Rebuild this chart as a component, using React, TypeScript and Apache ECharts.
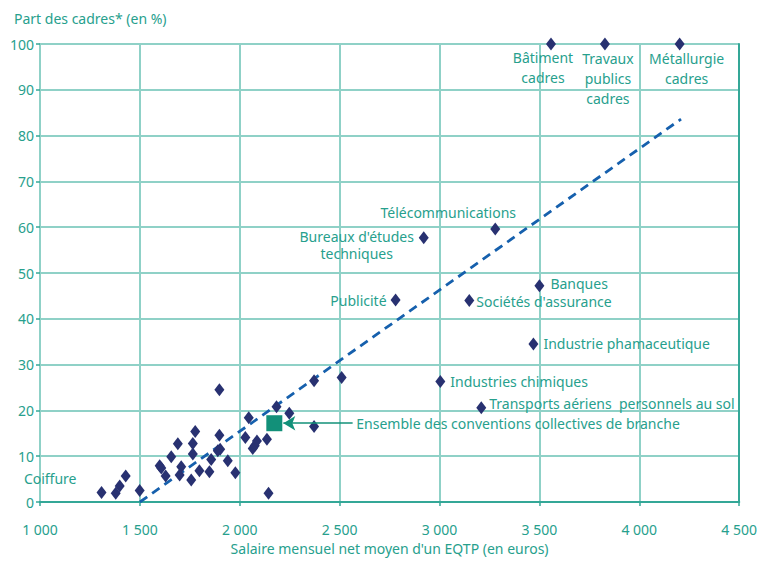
import React, { useEffect, useRef } from "react";
import * as echarts from "echarts";

// Unlabelled conventions (salary in euros, share of managers in %)
const clusterX = [1379, 1399, 1429, 1499, 1599, 1607, 1629, 1657, 1690, 1707, 1699, 1757, 1765, 1777, 1765, 1798, 1848, 1857, 1898, 1898, 1890, 1902, 1940, 1978, 2028, 2045, 2065, 2075, 2086, 2136, 2144, 2184, 2248, 2372, 2372, 2510];
const clusterY = [1.9, 3.5, 5.7, 2.5, 7.9, 7.4, 5.7, 9.9, 12.7, 7.7, 5.9, 4.8, 12.8, 15.4, 10.5, 6.8, 6.6, 9.3, 24.5, 14.6, 11.2, 11.5, 9.0, 6.4, 14.1, 18.4, 11.7, 12.3, 13.3, 13.7, 1.9, 20.8, 19.4, 26.5, 16.5, 27.2];

// Labelled conventions
const labelNames = [
  "Coiffure",
  "Télécommunications",
  "Bureaux d'études\ntechniques",
  "Publicité",
  "Sociétés d'assurance",
  "Banques",
  "Industrie phamaceutique",
  "Industries chimiques",
  "Transports aériens  personnels au sol",
  "Bâtiment\ncadres",
  "Travaux\npublics\ncadres",
  "Métallurgie\ncadres",
];
const labelX = [1308, 3279, 2921, 2780, 3149, 3500, 3470, 3004, 3209, 3558, 3828, 4202];
const labelY = [2.1, 59.6, 57.7, 44.1, 44.0, 47.2, 34.5, 26.3, 20.6, 100, 100, 100];

// Overall figure
const ensembleName = "Ensemble des conventions collectives de branche";
const ensembleX = 2173;
const ensembleY = 17.2;

// Trend line endpoints
const trendX = [1500, 4209];
const trendY = [0, 83.6];

const xTicks = [1000, 1500, 2000, 2500, 3000, 3500, 4000, 4500];
const yTicks = [0, 10, 20, 30, 40, 50, 60, 70, 80, 90, 100];

const TEXT = "#27a08d";
const GRID = "#8fd1c7";
const FRAME = "#34a797";
const DIAMOND = "#283171";
const FONT = "Noto Sans";

const fmtThousands = (v: number) => {
  const s = String(Math.round(v));
  return s.length > 3 ? s.slice(0, s.length - 3) + " " + s.slice(-3) : s;
};

export default function App() {
  const ref = useRef<HTMLDivElement>(null);
  useEffect(() => {
    if (!ref.current) return;
    const chart = echarts.init(ref.current, null, { renderer: "svg" });

    const labelCfg: any[] = [
      { position: "left", distance: 20, offset: [0, -14], lineHeight: 15 },
      { position: "top", distance: 3, offset: [-47, 0], lineHeight: 15 },
      { position: [-62, -3], align: "center", verticalAlign: "top", lineHeight: 17 },
      { position: "left", distance: 4, lineHeight: 15 },
      { position: "right", distance: 2, offset: [0, 1], lineHeight: 15 },
      { position: "right", distance: 6, offset: [0, -2], lineHeight: 15 },
      { position: "right", distance: 5, lineHeight: 15 },
      { position: "right", distance: 5, lineHeight: 15 },
      { position: "right", distance: 3, offset: [0, -4], lineHeight: 15 },
      { position: [-3, 10], align: "center", verticalAlign: "top", lineHeight: 20 },
      { position: [8, 11], align: "center", verticalAlign: "top", lineHeight: 20 },
      { position: [12, 11], align: "center", verticalAlign: "top", lineHeight: 20 },
    ];

    const labelled = labelNames.map((n, i) => ({
      value: [labelX[i], labelY[i]],
      name: n,
      label: {
        show: true,
        formatter: n,
        color: TEXT,
        fontFamily: FONT,
        fontSize: 14,
        ...labelCfg[i],
      },
    }));

    chart.setOption({
      animation: false,
      textStyle: { fontFamily: FONT },
      grid: { left: 40, right: 19, top: 44, bottom: 61, containLabel: false },
      xAxis: [
        {
          type: "value",
          min: xTicks[0],
          max: xTicks[xTicks.length - 1],
          interval: 500,
          name: "Salaire mensuel net moyen d'un EQTP (en euros)",
          nameLocation: "middle",
          nameGap: 39,
          nameTextStyle: { color: TEXT, fontSize: 14, fontFamily: FONT },
          axisLine: { show: true, lineStyle: { color: FRAME, width: 2 } },
          axisTick: { show: true, length: 4, lineStyle: { color: FRAME, width: 1.5 } },
          axisLabel: { color: TEXT, fontSize: 14, fontFamily: FONT, margin: 20, formatter: fmtThousands },
          splitLine: { show: true, lineStyle: { color: GRID, width: 2 } },
        },
        {
          type: "value",
          position: "top",
          min: xTicks[0],
          max: xTicks[xTicks.length - 1],
          interval: 500,
          axisLine: { show: true, lineStyle: { color: FRAME, width: 2 } },
          axisTick: { show: false },
          axisLabel: { show: false },
          splitLine: { show: false },
        },
      ],
      yAxis: [
        {
          type: "value",
          min: yTicks[0],
          max: yTicks[yTicks.length - 1],
          interval: 10,
          name: "Part des cadres* (en %)",
          nameLocation: "end",
          nameGap: 19,
          nameTextStyle: { color: TEXT, fontSize: 14, fontFamily: FONT, align: "left", padding: [0, 0, 0, -26] },
          axisLine: { show: true, lineStyle: { color: GRID, width: 2 } },
          axisTick: { show: true, length: 4, lineStyle: { color: FRAME, width: 1.5 } },
          axisLabel: { color: TEXT, fontSize: 14, fontFamily: FONT, margin: 6 },
          splitLine: { show: true, lineStyle: { color: GRID, width: 2 } },
        },
        {
          type: "value",
          position: "right",
          min: yTicks[0],
          max: yTicks[yTicks.length - 1],
          interval: 10,
          axisLine: { show: true, lineStyle: { color: FRAME, width: 2 } },
          axisTick: { show: false },
          axisLabel: { show: false },
          splitLine: { show: false },
        },
      ],
      series: [
        {
          type: "line",
          data: trendX.map((x, i) => [x, trendY[i]]),
          showSymbol: false,
          symbol: "none",
          lineStyle: { color: "#1660ad", width: 2.8, type: [9, 6] },
          z: 3,
          silent: true,
        },
        {
          type: "scatter",
          data: clusterX.map((x, i) => [x, clusterY[i]]),
          symbol: "diamond",
          symbolSize: [10, 13],
          itemStyle: { color: DIAMOND, opacity: 1 },
          z: 4,
        },
        {
          type: "scatter",
          data: labelled,
          symbol: "diamond",
          symbolSize: [10, 13],
          itemStyle: { color: DIAMOND, opacity: 1 },
          z: 4,
        },
        {
          type: "scatter",
          data: [
            {
              value: [ensembleX, ensembleY],
              label: {
                show: true,
                formatter: ensembleName,
                position: "right",
                distance: 74,
                color: TEXT,
                fontSize: 14,
                fontFamily: FONT,
                lineHeight: 15,
              },
            },
          ],
          symbol: "rect",
          symbolSize: 16,
          itemStyle: { color: "#129079", opacity: 1 },
          z: 5,
          markLine: {
            silent: true,
            symbol: ["none", "arrow"],
            symbolSize: [11, 12],
            lineStyle: { color: "#129079", width: 1.5, type: "solid", opacity: 1 },
            label: { show: false },
            data: [[{ coord: [2565, ensembleY] }, { coord: [2218, ensembleY] }]],
          },
        },
      ],
    });
    return () => chart.dispose();
  }, []);
  return (
    <div
      ref={ref}
      style={{ position: "fixed", left: 0, top: 0, width: 760, height: 563, background: "#fff" }}
    />
  );
}
